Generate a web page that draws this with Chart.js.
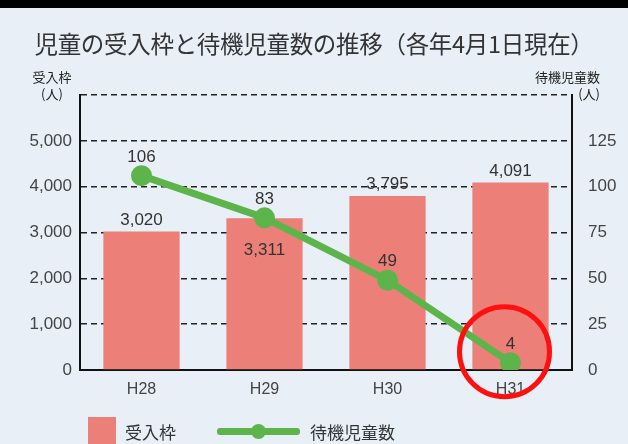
<!DOCTYPE html>
<html>
<head>
<meta charset="utf-8">
<script src="https://cdn.jsdelivr.net/npm/chart.js@4/dist/chart.umd.min.js"></script>
<style>
  html, body { margin: 0; padding: 0; }
  body { width: 628px; height: 444px; background: #e9eff7; position: relative; overflow: hidden;
         font-family: "Noto Sans CJK JP", "Liberation Sans", sans-serif; color: #333; }
  #topbar { position: absolute; left: 0; top: 0; width: 628px; height: 8px; background: #000; }
  #wrap { position: absolute; left: 0; top: 0; width: 628px; height: 444px; }
  .txt { position: absolute; white-space: nowrap; }
  #title { left: 0; width: 628px; top: 26px; text-align: center; font-size: 23.5px; color: #333; letter-spacing: -0.3px; }
  .unit { font-size: 13px; color: #222; line-height: 17px; text-align: center; }
  .leg { font-size: 17px; color: #333; }
</style>
</head>
<body>
<div id="topbar"></div>
<div id="wrap"><canvas id="c" width="628" height="444"></canvas></div>
<div class="txt" id="title">児童の受入枠と待機児童数の推移（各年4月1日現在）</div>
<div class="txt unit" style="left:30px; top:68px; width:44px;">受入枠<br>(人)</div>
<div class="txt unit" style="left:526px; top:68px; width:74px; text-align:right;">待機児童数<br><span style="padding-right:0px">(人)</span></div>
<div class="txt" style="left:88px; top:417px; width:28px; height:30px; background:#ec8078;"></div>
<div class="txt leg" style="left:125px; top:419px;">受入枠</div>
<div class="txt" style="left:217px; top:428px; width:83px; height:7px; background:#5db44a; border-radius:3px;"></div>
<div class="txt" style="left:251px; top:424px; width:15px; height:15px; background:#5db44a; border-radius:50%;"></div>
<div class="txt leg" style="left:310px; top:419px;">待機児童数</div>
<script>
// データ
const years = ['H28', 'H29', 'H30', 'H31'];
const capacity = [3020, 3311, 3795, 4091];
const waiting = [106, 83, 49, 4];

const barColor = '#ec8078';
const lineColor = '#5db44a';

// ラベル描画 + 赤丸
const labelPlugin = {
  id: 'labels',
  afterDatasetsDraw(chart) {
    const ctx = chart.ctx;
    ctx.save();
    ctx.font = '17px "Liberation Sans", sans-serif';
    ctx.fillStyle = '#333';
    ctx.textAlign = 'center';
    ctx.textBaseline = 'bottom';
    const bars = chart.getDatasetMeta(1).data;
    bars.forEach((b, i) => {
      const txt = capacity[i].toLocaleString('en-US');
      if (i === 1) {
        ctx.textBaseline = 'top';
        ctx.fillText(txt, b.x, b.y + 24);
        ctx.textBaseline = 'bottom';
      } else {
        ctx.fillText(txt, b.x, b.y - 3);
      }
    });
    const pts = chart.getDatasetMeta(0).data;
    pts.forEach((p, i) => {
      ctx.fillText(String(waiting[i]), p.x, p.y - 10);
    });
    // 赤丸
    const xs = chart.scales.x, y2 = chart.scales.y2;
    ctx.beginPath();
    ctx.strokeStyle = '#ff1010';
    ctx.lineWidth = 5;
    ctx.arc(xs.getPixelForValue(3) - 6, y2.getPixelForValue(10), 45, 0, Math.PI * 2);
    ctx.stroke();
    ctx.restore();
  }
};

new Chart(document.getElementById('c').getContext('2d'), {
  data: {
    labels: years,
    datasets: [
      {
        type: 'line', label: '待機児童数', data: waiting, yAxisID: 'y2',
        borderColor: lineColor, backgroundColor: lineColor, borderWidth: 7,
        pointRadius: 7, pointHoverRadius: 7, order: 0
      },
      {
        type: 'bar', label: '受入枠', data: capacity, yAxisID: 'y',
        backgroundColor: barColor, categoryPercentage: 0.62, barPercentage: 1, order: 1
      }
    ]
  },
  options: {
    responsive: false,
    animation: false,
    layout: { padding: { top: 95, bottom: 46, left: 0, right: 0 } },
    plugins: { legend: { display: false }, tooltip: { enabled: false } },
    scales: {
      x: {
        grid: { display: false },
        border: { color: '#111', width: 2 },
        ticks: { color: '#444', font: { size: 16, family: '"Liberation Sans", sans-serif' }, padding: 2 },
        afterFit(s) { s.height = 28; }
      },
      y: {
        position: 'left', min: 0, max: 6000,
        ticks: { stepSize: 1000, color: '#444', padding: 8,
                 font: { size: 17, family: '"Liberation Sans", sans-serif' },
                 callback: v => v === 6000 ? '' : v.toLocaleString('en-US') },
        grid: { color: '#222', lineWidth: 1.5, tickLength: 0,
                borderDash: [6, 4], drawOnChartArea: true },
        border: { color: '#111', width: 2, dash: [6, 4] },
        afterFit(s) { s.width = 80; }
      },
      y2: {
        position: 'right', min: 0, max: 150,
        ticks: { stepSize: 25, color: '#444', padding: 8,
                 font: { size: 17, family: '"Liberation Sans", sans-serif' },
                 callback: v => v === 150 ? '' : v },
        grid: { display: false },
        border: { color: '#111', width: 2 },
        afterFit(s) { s.width = 56; }
      }
    }
  },
  plugins: [labelPlugin]
});
</script>
</body>
</html>
